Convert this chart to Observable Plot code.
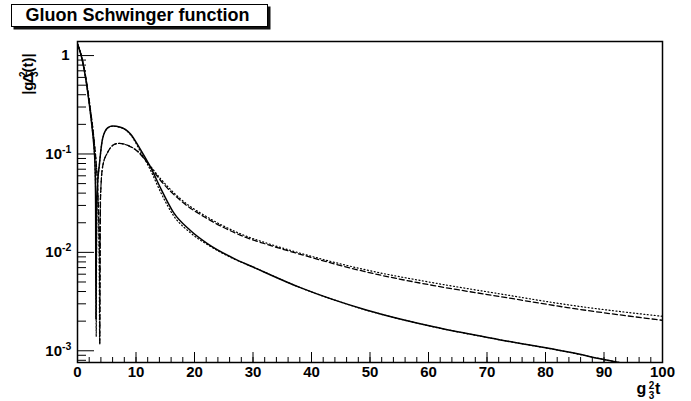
<!DOCTYPE html>
<html>
<head>
<meta charset="utf-8">
<script src="https://cdn.jsdelivr.net/npm/d3@7"></script>
<script src="https://cdn.jsdelivr.net/npm/@observablehq/plot@0.6"></script>
<style>
  html, body { margin: 0; padding: 0; background: #fff; }
  #wrap { position: relative; width: 691px; height: 401px; font-family: "Liberation Sans", Arial, Helvetica, sans-serif; font-weight: bold; }
  #title {
    position: absolute; left: 10.5px; top: 3.5px; width: 241px; height: 21px;
    border: 1px solid #000; background: #fff; box-shadow: 2.5px 2.5px 0 #111;
    font-size: 18px; line-height: 21px; padding-left: 14px; box-sizing: content-box;
    white-space: nowrap;
  }
  #wrap svg text { font-family: "Liberation Sans", Arial, Helvetica, sans-serif; font-weight: bold; }
</style>
</head>
<body>
<div id="wrap">
  <div id="title">Gluon Schwinger function</div>
</div>
<script>
// |g3^2 Δ(t)| against g3^2 t, four curves on a log scale

// solid curve
const solidT = [0, 0.63, 1.49, 2.05, 2.45, 2.79, 3.0, 3.1, 3.15, 3.25, 3.4, 3.76, 4.3, 5.2, 6.0, 7.35, 9.06, 10.8, 12.5, 14.2, 16.4, 19.3, 22.2, 26.7, 30, 38.1, 49.5, 60.9, 72.3, 83.7, 91.1, 100];
const solidV = [1.3, 1.0, 0.54, 0.31, 0.196, 0.123, 0.075, 0.03, 0.0021, 0.02, 0.045, 0.08, 0.144, 0.185, 0.192, 0.187, 0.16, 0.11, 0.073, 0.045, 0.0255, 0.0167, 0.0123, 0.0087, 0.0071, 0.00438, 0.00258, 0.00175, 0.00129, 0.000975, 0.00079, 0.00063];

// dotted curve running with the solid one
const dotLowT = [0, 0.63, 1.49, 2.05, 2.45, 2.79, 3.0, 3.12, 3.2, 3.28, 3.4, 3.76, 4.3, 5.2, 6.0, 7.35, 9.06, 10.8, 12.5, 14.2, 16.4, 19.3, 22.2, 26.7, 30, 38.1, 49.5, 60.9, 72.3, 83.7, 91.1, 100];
const dotLowV = [1.3, 1.0, 0.54, 0.31, 0.196, 0.123, 0.075, 0.03, 0.0014, 0.018, 0.043, 0.079, 0.143, 0.184, 0.191, 0.186, 0.157, 0.105, 0.068, 0.041, 0.0237, 0.0158, 0.012, 0.0086, 0.0071, 0.00438, 0.00258, 0.00175, 0.00129, 0.000975, 0.00079, 0.00063];

// dashed curve
const dashT = [0, 0.65, 1.55, 2.12, 2.55, 2.92, 3.2, 3.45, 3.64, 3.76, 3.81, 3.93, 4.3, 5.2, 6.3, 7.06, 8.77, 10.5, 11.9, 14.2, 17.6, 22.2, 27.9, 33.5, 38.1, 49.5, 60.9, 72.3, 83.7, 100];
const dashV = [1.32, 1.0, 0.54, 0.31, 0.196, 0.123, 0.08, 0.045, 0.02, 0.007, 0.00115, 0.035, 0.075, 0.105, 0.125, 0.128, 0.121, 0.103, 0.082, 0.0538, 0.0337, 0.022, 0.0149, 0.0115, 0.00955, 0.0063, 0.0046, 0.00355, 0.00275, 0.00204];

// dotted curve running with the dashed one
const dotHighT = [0, 0.65, 1.55, 2.12, 2.55, 2.92, 3.2, 3.45, 3.62, 3.72, 3.78, 3.9, 4.3, 5.2, 6.3, 7.06, 8.77, 10.5, 11.9, 14.2, 17.6, 22.2, 27.9, 33.5, 38.1, 49.5, 60.9, 72.3, 83.7, 100];
const dotHighV = [1.32, 1.0, 0.54, 0.31, 0.196, 0.123, 0.08, 0.045, 0.02, 0.007, 0.0012, 0.033, 0.074, 0.105, 0.125, 0.128, 0.121, 0.104, 0.083, 0.056, 0.035, 0.0228, 0.0154, 0.0118, 0.0098, 0.0066, 0.0049, 0.00378, 0.00294, 0.00224];

// axis ticks and labels
const xMajor = [0, 10, 20, 30, 40, 50, 60, 70, 80, 90, 100];
const xMinor = d3.range(0, 101, 2);
const yMajor = [1, 0.1, 0.01, 0.001];
const yBase = ["1", "10", "10", "10"];
const yExp = ["", "-1", "-2", "-3"];
const yMinor = [];
for (let k = -4; k <= 0; k++) for (let m = 2; m <= 9; m++) yMinor.push(m * Math.pow(10, k));

const yDomain = [7.6e-4, 1.39];
const inDomain = v => v >= yDomain[0] && v <= yDomain[1];

const W = 691, H = 401, ML = 77, MR = 29, MT = 41, MB = 39;
const PW = W - ML - MR, PH = H - MT - MB;

const series = (T, V) => T.map((t, i) => ({t, v: V[i]}));
const labelFont = {fontWeight: "bold", fill: "#000"};

const chart = Plot.plot({
  width: W, height: H,
  marginLeft: ML, marginRight: MR, marginTop: MT, marginBottom: MB,
  style: {background: "transparent", color: "#000"},
  x: {domain: [0, 100], axis: null},
  y: {type: "log", domain: yDomain, axis: null},
  marks: [
    Plot.line(series(dotHighT, dotHighV), {x: "t", y: "v", stroke: "#000", strokeWidth: 1.2, strokeDasharray: "1,2.5", curve: "monotone-x", clip: true}),
    Plot.line(series(dashT, dashV), {x: "t", y: "v", stroke: "#000", strokeWidth: 1.3, strokeDasharray: "5,3", curve: "monotone-x", clip: true}),
    Plot.line(series(dotLowT, dotLowV), {x: "t", y: "v", stroke: "#000", strokeWidth: 1.2, strokeDasharray: "1,2.5", curve: "monotone-x", clip: true}),
    Plot.line(series(solidT, solidV), {x: "t", y: "v", stroke: "#000", strokeWidth: 1.5, curve: "monotone-x", clip: true}),
    // inward ticks on the bottom and left axes
    Plot.tickX(xMinor, {x: d => d, stroke: "#000", strokeWidth: 1, insetTop: PH - 5}),
    Plot.tickX(xMajor, {x: d => d, stroke: "#000", strokeWidth: 1, insetTop: PH - 10}),
    Plot.tickY(yMinor.filter(inDomain), {y: d => d, stroke: "#000", strokeWidth: 1, insetRight: PW - 9}),
    Plot.tickY(yMajor, {y: d => d, stroke: "#000", strokeWidth: 1, insetRight: PW - 17}),
    Plot.frame({stroke: "#000", strokeWidth: 1.5}),
    // tick labels
    Plot.text(xMajor, {x: d => d, text: d => String(d), frameAnchor: "bottom", lineAnchor: "top", dy: 4, fontSize: 15, ...labelFont}),
    Plot.text(yMajor.slice(0, 1), {y: d => d, text: (d, i) => yBase[i], frameAnchor: "left", textAnchor: "end", dx: -8, fontSize: 15, ...labelFont}),
    Plot.text(yMajor.slice(1), {y: d => d, text: (d, i) => yBase[i + 1], frameAnchor: "left", textAnchor: "end", dx: -15.5, fontSize: 15, ...labelFont}),
    Plot.text(yMajor.slice(1), {y: d => d, text: (d, i) => yExp[i + 1], frameAnchor: "left", textAnchor: "start", dx: -15.5, dy: -4.5, fontSize: 10.5, ...labelFont})
  ]
});

document.getElementById("wrap").appendChild(chart);

// axis titles: one text each, with a stacked superscript and subscript
const svg = d3.select(chart);
function textWidth(s, size) {
  const t = svg.append("text").attr("font-size", size).attr("font-weight", "bold").text(s);
  const w = t.node().getComputedTextLength();
  t.remove();
  return w;
}
function composite(parent, pre, sup, sub, post, size, small, up, down) {
  const x1 = textWidth(pre, size) + 0.5;
  const x2 = x1 + Math.max(textWidth(sup, small), textWidth(sub, small)) + 0.5;
  const t = parent.append("text").attr("font-weight", "bold").attr("fill", "#000");
  t.append("tspan").attr("x", 0).attr("y", 0).attr("font-size", size).text(pre);
  t.append("tspan").attr("x", x1).attr("y", -up).attr("font-size", small).text(sup);
  t.append("tspan").attr("x", x1).attr("y", down).attr("font-size", small).text(sub);
  t.append("tspan").attr("x", x2).attr("y", 0).attr("font-size", size).text(post);
  return x2 + textWidth(post, size);
}
// x title: g_3^2 t, right edge at the frame's right side
const xt = svg.append("g");
const xw = composite(xt, "g", "2", "3", "t", 16, 10, 4.5, 5);
xt.attr("transform", `translate(${W - MR + 1 - xw},393.5)`);
// y title: |g_3^2 Δ(t)|, reading upward, ending near the top of the frame
const yt = svg.append("g");
const yw = composite(yt, "|g", "2", "3", "Δ(t)|", 15, 10, 6.5, 4.5);
yt.attr("transform", `translate(33.3,${38.3 + yw}) rotate(-90)`);
</script>
</body>
</html>
